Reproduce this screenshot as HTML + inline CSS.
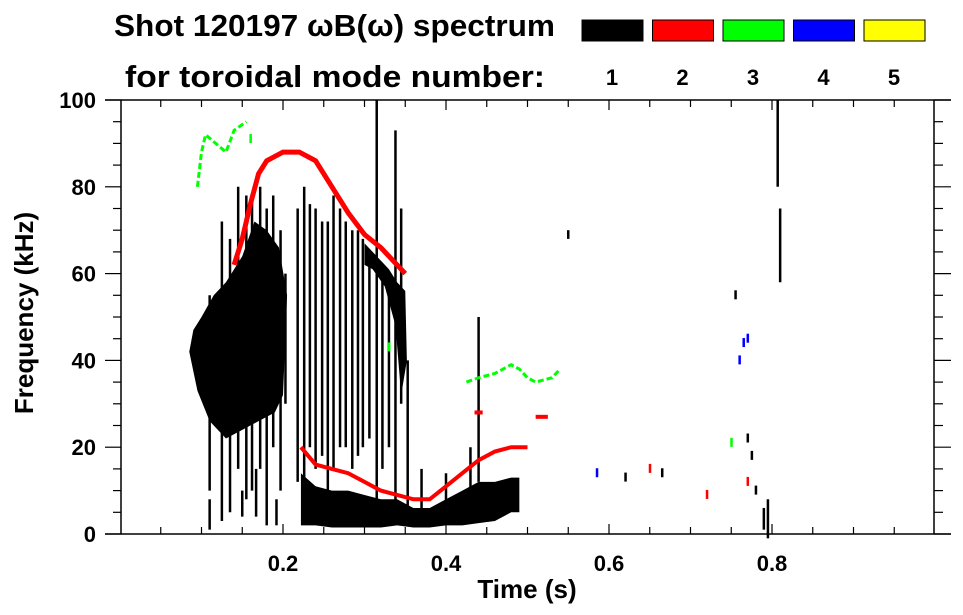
<!DOCTYPE html>
<html><head><meta charset="utf-8"><style>
html,body{margin:0;padding:0;background:#fff;}
svg{display:block;font-family:"Liberation Sans",sans-serif;font-weight:bold;}
</style></head><body>
<svg id="c" width="963" height="615" xmlns="http://www.w3.org/2000/svg">
<text x="114" y="36" font-size="31" textLength="441" lengthAdjust="spacingAndGlyphs">Shot 120197 ωB(ω) spectrum</text>
<text x="125" y="87" font-size="31" textLength="420" lengthAdjust="spacingAndGlyphs">for toroidal mode number:</text>
<g id="legend"></g>
<g id="marks"></g>
<g id="axes"></g>
<text x="527" y="598" font-size="26" text-anchor="middle">Time (s)</text>
<text transform="translate(33,313) rotate(-90)" font-size="26" text-anchor="middle">Frequency (kHz)</text>
</svg>
<script>
const modes=["1","2","3","4","5"];
const modeColors=["#000","#f00","#0f0","#00f","#ff0"];
const xTicks=[0.2,0.4,0.6,0.8];
const yTicks=[0,20,40,60,80,100];
const blobMain=[[0.085,42],[0.095,33],[0.11,26],[0.13,22],[0.15,24],[0.17,26],[0.19,28],[0.2,32],[0.205,55],[0.195,66],[0.18,70],[0.165,72],[0.15,64],[0.13,58],[0.115,55],[0.1,50],[0.09,47]];
const blobUpper=[[0.3,67],[0.315,64],[0.33,61],[0.34,58],[0.35,56],[0.352,40],[0.345,32],[0.338,48],[0.325,57],[0.31,61],[0.3,62]];
const bandT=[0.222,0.24,0.26,0.28,0.3,0.32,0.34,0.36,0.38,0.4,0.42,0.44,0.46,0.48,0.49];
const bandTop=[14,11,10,10,9,8,8,6,6,8,10,12,12,13,13];
const bandBot=[2,2,1.5,1.5,1.5,1.5,2,1.5,1.5,2,2,2.5,3,5,5];
const strokes=[[0.11,10,55],[0.125,3,72],[0.135,5,68],[0.145,15,80],[0.155,8,78],[0.162,10,78],[0.172,15,80],[0.18,2,75],[0.188,20,78],[0.197,10,70],[0.203,30,60],
[0.218,12,75],[0.226,3,80],[0.233,20,76],[0.24,15,75],[0.248,18,72],[0.255,10,72],[0.262,15,78],[0.27,20,75],[0.277,20,72],[0.285,15,70],[0.292,18,70],[0.298,20,68],[0.306,22,65],[0.315,5,100],[0.322,15,60],[0.33,20,58],[0.338,5,93],[0.345,30,75],[0.353,3,40],
[0.11,1,8],[0.15,4,10],[0.167,4,15],[0.192,2,8],[0.43,5,20],[0.44,12,50],[0.37,3,15],[0.4,6,14],[0.807,80,100],[0.81,58,75],[0.795,-1,8],[0.79,1,6],[0.55,68,70]];
const redUpper=[[0.14,62],[0.15,68],[0.16,76],[0.17,83],[0.18,86],[0.2,88],[0.22,88],[0.24,86],[0.26,80],[0.28,74],[0.3,69],[0.32,66],[0.34,62],[0.35,60]];
const redLower=[[0.222,20],[0.24,16],[0.26,15],[0.28,14],[0.3,12],[0.32,10],[0.34,9],[0.36,8],[0.38,8],[0.4,11],[0.42,14],[0.44,17],[0.46,19],[0.48,20],[0.5,20]];
const redMid=[[0.435,28],[0.445,28],[0.51,27],[0.525,27]];
const greenMid=[[0.425,35],[0.44,36],[0.46,37],[0.48,39],[0.49,38],[0.5,36],[0.51,35],[0.53,36],[0.54,38]];
const greenUpper=[[0.095,80],[0.1,88],[0.105,92],[0.13,88],[0.14,93],[0.155,95]];
const specks=[[0.16,91,3],[0.585,14,4],[0.62,13,1],[0.665,14,1],[0.75,21,3],[0.76,40,4],[0.765,44,4],[0.77,45,4],[0.77,22,1],[0.775,18,1],[0.755,55,1],[0.77,12,2],[0.65,15,2],[0.72,9,2],[0.78,10,1],[0.33,43,3]];
const X=t=>120+815*t, Y=f=>534-4.34*f;
const NS="http://www.w3.org/2000/svg";
function mk(tag,parent,attrs){const e=document.createElementNS(NS,tag);for(const k in attrs)e.setAttribute(k,attrs[k]);parent.appendChild(e);return e;}
const leg=document.getElementById('legend');
modes.forEach((m,i)=>{const x=582+70.5*i;
 const r=mk('rect',leg,{x:x,y:20,width:61,height:21,fill:modeColors[i],stroke:'#000','stroke-width':1});
 
 
 const t=mk('text',leg,{x:x+30,y:85,'font-size':22,'text-anchor':'middle'});t.textContent=m;
 
 });
const g=document.getElementById('marks');
const pts=a=>a.map(p=>X(p[0])+','+Y(p[1])).join(' ');
let p=mk('polygon',g,{points:pts(blobMain),fill:'#000'});


p=mk('polygon',g,{points:pts(blobUpper),fill:'#000'});


const bp=bandT.map((t,i)=>[t,bandTop[i]]).concat(bandT.map((t,i)=>[t,bandBot[i]]).reverse());
p=mk('polygon',g,{points:pts(bp),fill:'#000'});


strokes.forEach(s=>{const l=mk('line',g,{x1:X(s[0]),x2:X(s[0]),y1:Y(s[1]),y2:Y(s[2]),stroke:'#000','stroke-width':2.5});
 
 });
[[redUpper,'#f00',5,'mode2-upper-trace'],[redLower,'#f00',4,'mode2-lower-trace'],[greenMid,'#0f0',3,'mode3-mid-trace'],[greenUpper,'#0f0',3,'mode3-upper-trace']].forEach(a=>{
 const l=mk('polyline',g,{points:pts(a[0]),fill:'none',stroke:a[1],'stroke-width':a[2],'stroke-dasharray':a[2]>3?'none':'6 3'});
 
 });
for(let i=0;i<redMid.length;i+=2){const l=mk('line',g,{x1:X(redMid[i][0]),y1:Y(redMid[i][1]),x2:X(redMid[i+1][0]),y2:Y(redMid[i+1][1]),stroke:'#f00','stroke-width':4});
 
 }
specks.forEach(s=>{const r=mk('rect',g,{x:X(s[0])-1,y:Y(s[1])-5,width:2.5,height:9,fill:modeColors[s[2]-1]});
 
 });
const ax=document.getElementById('axes');
const fr=mk('path',ax,{d:'M105,100H951M105,534H951M121,100V534M934,100V534',stroke:'#000','stroke-width':1.5,fill:'none'});


for(let f=0;f<=100;f+=5){const maj=f%20===0;const y=Y(f);
 mk('line',ax,{x1:maj?105:113,x2:121,y1:y,y2:y,stroke:'#000','stroke-width':1.2});
 mk('line',ax,{x1:934,x2:maj?951:943,y1:y,y2:y,stroke:'#000','stroke-width':1.2});}
for(let t=0.05;t<1;t+=0.05){const x=X(t);const maj=Math.abs(t*10-Math.round(t*10))<0.01&&Math.round(t*10)%2===0;
 mk('line',ax,{x1:x,x2:x,y1:534,y2:maj?524:527,stroke:'#000','stroke-width':1.2});
 mk('line',ax,{x1:x,x2:x,y1:100,y2:maj?110:107,stroke:'#000','stroke-width':1.2});}
yTicks.forEach(f=>{const t=mk('text',ax,{x:96,y:Y(f)+8,'font-size':22,'text-anchor':'end'});t.textContent=String(f);
 
 });
xTicks.forEach(v=>{const t=mk('text',ax,{x:X(v),y:571,'font-size':22,'text-anchor':'middle'});t.textContent=v.toFixed(1);
 
 });
</script>
</body></html>
